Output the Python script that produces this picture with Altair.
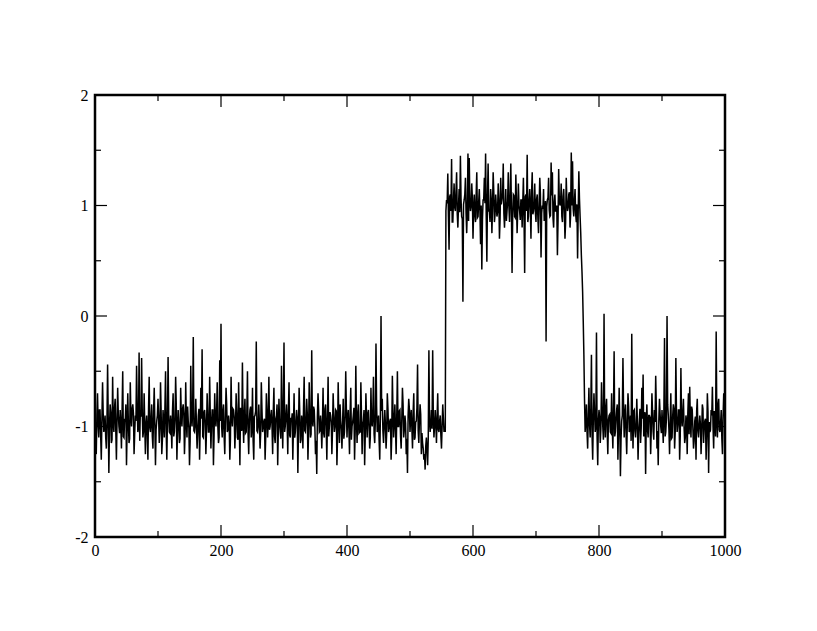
import altair as alt
import pandas as pd

# Sample grid (x every unit from 0 to 1000)
x_values = list(range(0, 1001))

# Signal, in segments
low_left = [
    -0.95, -1.05, -1.25, -0.90, -0.70, -0.98, -1.10, -0.85, -0.85, -1.08, -1.30, -0.92, -0.60, -0.88, -1.05, -1.00, -0.90, -1.10, -1.20, -0.95,
    -0.44, -0.92, -1.42, -1.02, -0.80, -0.87, -1.15, -1.12, -0.55, -0.96, -1.05, -0.83, -0.75, -1.04, -1.30, -0.94, -0.65, -0.89, -1.00, -1.06,
    -0.85, -1.00, -1.20, -0.86, -0.50, -1.09, -1.10, -0.93, -0.95, -0.80, -1.35, -1.03, -0.70, -0.97, -1.15, -1.11, -0.60, -0.90, -1.00, -0.84,
    -0.80, -0.88, -1.25, -1.07, -0.90, -0.95, -0.45, -0.82, -1.05, -1.01, -0.33, -1.13, -0.85, -0.91, -0.38, -0.86, -1.10, -1.04, -0.70, -0.99,
    -1.25, -0.98, -0.90, -1.06, -1.30, -0.84, -0.55, -1.01, -1.05, -0.93, -0.80, -1.09, -1.20, -0.87, -0.65, -0.96, -1.35, -1.03, -0.95, -0.90,
    -0.75, -0.92, -1.15, -1.02, -0.60, -0.87, -1.25, -1.12, -0.85, -0.96, -1.10, -0.83, -0.50, -1.04, -1.30, -0.94, -0.37, -0.89, -1.05, -1.06,
    -0.90, -1.00, -1.20, -0.86, -0.70, -1.09, -1.05, -0.93, -0.55, -0.80, -1.30, -1.03, -0.85, -0.97, -1.15, -1.11, -0.65, -0.90, -1.00, -0.84,
    -0.80, -0.88, -1.25, -1.07, -0.60, -0.95, -1.10, -0.82, -0.95, -1.01, -1.35, -1.13, -0.45, -0.91, -1.00, -0.86, -0.19, -1.04, -1.05, -0.99,
    -0.75, -0.98, -1.20, -1.06, -0.90, -0.84, -1.30, -1.01, -0.65, -0.93, -0.30, -1.09, -1.10, -0.87, -0.85, -0.96, -1.25, -1.03, -0.70, -0.90,
    -1.05, -1.05, -0.55, -0.90, -1.20, -0.98, -0.85, -0.85, -1.35, -1.08, -0.70, -0.92, -1.00, -0.88, -0.60, -1.00, -1.15, -1.10, -0.40, -0.95,
    -0.07, -1.00, -1.10, -0.86, -0.80, -1.09, -1.25, -0.93, -0.65, -0.80, -1.05, -1.03, -0.90, -0.97, -1.30, -1.11, -0.55, -0.90, -1.00, -0.84,
    -0.85, -0.92, -1.20, -1.02, -0.70, -0.87, -1.10, -1.12, -0.60, -0.96, -1.35, -0.83, -0.95, -1.04, -0.42, -0.94, -1.15, -0.89, -0.75, -1.06,
    -1.05, -0.88, -0.50, -1.07, -1.25, -0.95, -0.85, -0.82, -1.10, -1.01, -0.65, -1.13, -1.30, -0.91, -0.90, -0.86, -0.23, -1.04, -1.05, -0.99,
    -0.80, -0.98, -1.20, -1.06, -0.60, -0.84, -1.05, -1.01, -0.95, -0.93, -1.30, -1.09, -0.70, -0.87, -1.10, -0.96, -0.55, -1.03, -1.00, -0.90,
    -0.85, -1.00, -1.25, -0.86, -0.65, -1.09, -1.15, -0.93, -0.90, -0.80, -1.35, -1.03, -0.75, -0.97, -1.05, -1.11, -0.45, -0.90, -1.20, -0.84,
    -0.24, -1.05, -1.00, -0.90, -0.80, -0.98, -1.25, -0.85, -0.60, -1.08, -1.10, -0.92, -0.95, -0.88, -1.30, -1.00, -0.70, -1.10, -1.05, -0.95,
    -0.85, -0.92, -1.42, -1.02, -0.65, -0.87, -1.15, -1.12, -0.90, -0.96, -1.20, -0.83, -0.55, -1.04, -1.05, -0.94, -0.75, -0.89, -1.30, -1.06,
    -0.60, -0.88, -1.10, -1.07, -0.31, -0.95, -1.00, -0.82, -0.85, -1.01, -1.25, -1.13, -1.43, -0.91, -0.70, -0.86, -1.05, -1.04, -0.90, -0.99,
    -1.20, -0.98, -0.65, -1.06, -1.10, -0.84, -0.80, -1.01, -1.30, -0.93, -0.55, -1.09, -1.00, -0.87, -0.90, -0.96, -1.25, -1.03, -0.70, -0.90,
    -1.05, -1.00, -0.85, -0.86, -1.35, -1.09, -0.60, -0.93, -1.15, -0.80, -0.95, -1.03, -1.20, -0.97, -0.75, -1.11, -1.05, -0.90, -0.50, -0.84,
    -1.10, -0.92, -0.85, -1.02, -1.25, -0.87, -0.65, -1.12, -1.00, -0.96, -0.90, -0.83, -1.30, -1.04, -0.45, -0.94, -1.15, -0.89, -0.80, -1.06,
    -1.05, -1.05, -0.60, -0.90, -1.25, -0.98, -0.95, -0.85, -1.35, -1.08, -0.70, -0.92, -1.10, -0.88, -0.85, -1.00, -1.20, -1.10, -0.65, -0.95,
    -1.00, -0.88, -0.55, -1.07, -1.15, -0.95, -0.25, -0.82, -1.05, -1.01, -0.90, -1.13, -1.30, -0.91, 0.00, -0.86, -0.75, -1.04, -1.15, -0.99,
    -0.85, -0.98, -1.20, -1.06, -0.70, -0.84, -1.05, -1.01, -0.95, -0.93, -1.30, -1.09, -0.54, -0.87, -1.10, -0.96, -0.80, -1.03, -1.25, -0.90,
    -0.50, -1.00, -1.00, -0.86, -0.85, -1.09, -1.20, -0.93, -0.65, -0.80, -1.10, -1.03, -0.90, -0.97, -1.25, -1.11, -1.42, -0.90, -0.75, -0.84,
    -1.05, -0.92, -0.85, -1.02, -1.20, -0.87, -0.70, -1.12, -1.10, -0.96, -0.95, -0.83, -0.44, -1.04, -1.15, -0.94, -0.80, -0.89, -1.25, -1.06,
    -1.15, -1.20, -1.30, -1.25, -1.39, -1.18, -1.10, -1.22, -1.35, -1.10, -0.31, -0.95, -1.05, -0.98, -0.85, -1.02, -0.31, -0.90, -1.10, -1.00,
    -0.85, -0.97, -1.15, -0.92, -0.70, -1.03, -1.05, -0.95, -0.90, -1.08, -1.20, -0.99, -0.80, -0.93, -1.05,
]
rise = [-1.00, -1.05, 0.95]
high = [
    1.05, 1.02, 1.29, 0.90, 0.60, 1.08, 1.10, 0.95, 1.42, 0.85, 0.85, 1.05, 1.20, 0.98, 0.95, 1.12, 1.30, 0.92, 0.80, 1.00,
    1.15, 0.94, 1.45, 1.06, 0.90, 0.88, 0.13, 1.01, 1.05, 1.10, 1.25, 0.93, 0.75, 0.97, 1.47, 0.86, 1.43, 1.04, 0.95, 0.99,
    1.20, 1.07, 0.70, 0.96, 1.10, 0.91, 0.85, 1.09, 1.30, 0.89, 0.90, 1.03, 1.15, 0.95, 0.65, 1.00, 0.42, 0.87, 1.05, 1.05,
    1.25, 1.02, 1.47, 0.90, 0.49, 1.08, 1.38, 0.95, 0.95, 0.85, 1.15, 1.05, 0.75, 0.98, 1.30, 1.12, 0.85, 0.92, 1.10, 1.00,
    0.90, 0.94, 1.20, 1.06, 0.70, 0.88, 1.25, 1.01, 1.05, 1.10, 1.38, 0.93, 0.80, 0.97, 1.15, 0.86, 0.95, 1.04, 1.30, 0.99,
    0.85, 1.07, 1.38, 0.96, 0.39, 0.91, 1.10, 1.09, 0.90, 0.89, 1.28, 1.03, 0.75, 0.95, 1.20, 1.00, 0.95, 0.87, 1.05, 1.05,
    0.80, 1.02, 1.25, 0.90, 0.39, 1.08, 1.10, 0.95, 1.46, 0.85, 0.90, 1.05, 1.15, 0.98, 0.70, 1.12, 1.30, 0.92, 0.95, 1.00,
    1.20, 0.94, 0.85, 1.06, 1.10, 0.88, 0.75, 1.01, 1.25, 1.10, 0.53, 0.93, 1.00, 0.97, 1.15, 0.86, 0.90, 1.04, -0.23, 0.99,
    1.05, 1.07, 1.25, 0.96, 0.90, 0.91, 1.39, 1.09, 1.30, 0.89, 0.80, 1.03, 1.10, 0.95, 0.95, 1.00, 0.55, 0.87, 1.33, 1.05,
    1.00, 1.02, 1.20, 0.90, 0.85, 1.08, 1.15, 0.95, 0.70, 0.85, 1.25, 1.05, 0.95, 0.98, 1.10, 1.12, 0.80, 0.92, 1.48, 1.00,
    1.40, 0.97, 0.90, 1.04, 1.15, 0.92, 0.85, 1.01, 0.52, 0.95, 1.31, 1.06, 0.90,
]
fall = [0.75, 0.55, 0.40, 0.22, -0.05, -0.35, -0.75, -1.05, -0.95]
low_right = [
    -0.80, -1.05, -1.20, -0.90, -0.65, -0.98, -1.10, -0.85, -0.35, -1.08, -1.30, -0.92, -0.70, -0.88, -1.05, -1.00, -0.15, -1.10, -1.35, -0.95,
    -0.85, -0.92, -1.15, -1.02, -0.60, -0.87, -1.00, -1.12, 0.02, -0.96, -1.10, -0.83, -0.75, -1.04, -1.25, -0.94, -0.90, -0.89, -1.05, -1.06,
    -0.70, -1.00, -1.20, -0.86, -0.32, -1.09, -1.05, -0.93, -0.85, -0.80, -1.30, -1.03, -0.65, -0.97, -1.45, -1.11, -0.95, -0.90, -0.38, -0.84,
    -1.10, -0.88, -0.80, -1.07, -1.25, -0.95, -0.70, -0.82, -1.05, -1.01, -0.90, -1.13, -0.16, -0.91, -1.20, -0.86, -0.85, -1.04, -1.10, -0.99,
    -0.75, -0.98, -1.30, -1.06, -0.95, -0.84, -1.15, -1.01, -0.65, -0.93, -0.53, -1.09, -1.05, -0.87, -1.43, -0.96, -0.80, -1.03, -1.10, -0.90,
    -0.90, -0.92, -1.25, -1.02, -0.70, -0.87, -1.05, -1.12, -0.85, -0.96, -0.54, -0.83, -1.20, -1.04, -1.35, -0.94, -0.75, -0.89, -1.00, -1.06,
    -0.85, -1.00, -1.15, -0.86, -0.20, -1.09, -1.05, -0.93, 0.00, -0.80, -0.90, -1.03, -1.25, -0.97, -0.70, -1.11, -1.10, -0.90, -0.80, -0.84,
    -1.20, -1.05, -0.38, -0.90, -1.05, -0.98, -0.85, -0.85, -1.30, -1.08, -0.47, -0.92, -1.00, -0.88, -0.75, -1.00, -1.15, -1.10, -0.90, -0.95,
    -1.25, -0.88, -0.70, -1.07, -0.64, -0.95, -1.10, -0.82, -0.85, -1.01, -1.20, -1.13, -0.95, -0.91, -1.30, -0.86, -0.75, -1.04, -1.10, -0.99,
    -0.90, -0.98, -1.25, -1.06, -0.80, -0.84, -1.15, -1.01, -0.95, -0.93, -1.30, -1.09, -0.70, -0.87, -1.42, -0.96, -1.05, -1.03, -0.85, -0.90,
    -0.64, -1.00, -1.20, -0.86, -0.90, -1.09, -0.14, -0.93, -1.10, -0.80, -0.75, -1.03, -1.05, -0.97, -0.85, -1.11, -1.25, -0.90, -0.70, -0.84,
    -1.00,
]

signal = low_left + rise + high + fall + low_right

# Axis tick positions
x_major = [0, 200, 400, 600, 800, 1000]
x_minor = [100, 300, 500, 700, 900]
y_major = [-2, -1, 0, 1, 2]
y_minor = [-1.5, -0.5, 0.5, 1.5]

W, H = 630, 442
MAJ, MIN = 12, 6
FONT = "Liberation Serif"

df = pd.DataFrame({"x": x_values, "y": signal})

xscale = alt.Scale(domain=[0, 1000], nice=False, zero=False)
yscale = alt.Scale(domain=[-2, 2], nice=False, zero=False)

xaxis = alt.Axis(values=x_major, labelExpr="'' + datum.value", title=None)
yaxis = alt.Axis(values=y_major, labelExpr="'' + datum.value", title=None)

line = alt.Chart(df).mark_line(color="black", strokeWidth=1.5).encode(
    x=alt.X("x:Q", scale=xscale, axis=xaxis),
    y=alt.Y("y:Q", scale=yscale, axis=yaxis),
)

def xticks(vals, length):
    d = pd.DataFrame({"x": vals})
    base = alt.Chart(d).mark_rule(color="black", strokeWidth=1.2)
    top = base.encode(x=alt.X("x:Q", scale=xscale, axis=xaxis),
                      y=alt.value(0), y2=alt.value(length))
    bottom = base.encode(x=alt.X("x:Q", scale=xscale, axis=xaxis),
                         y=alt.value(H), y2=alt.value(H - length))
    return [top, bottom]

def yticks(vals, length):
    d = pd.DataFrame({"y": vals})
    base = alt.Chart(d).mark_rule(color="black", strokeWidth=1.2)
    left = base.encode(y=alt.Y("y:Q", scale=yscale, axis=yaxis),
                       x=alt.value(0), x2=alt.value(length))
    right = base.encode(y=alt.Y("y:Q", scale=yscale, axis=yaxis),
                        x=alt.value(W), x2=alt.value(W - length))
    return [left, right]

layers = [line] + xticks(x_major, MAJ) + xticks(x_minor, MIN) + yticks(y_major, MAJ) + yticks(y_minor, MIN)

chart = alt.layer(*layers).properties(
    width=W, height=H,
    background="white",
    autosize=alt.AutoSizeParams(type="none"),
    padding={"left": 87, "top": 87, "right": 84, "bottom": 86},
).configure_view(
    stroke="black", strokeWidth=2.5
).configure_axis(
    labelFont=FONT, labelFontSize=16, labelColor="black", ticks=False, domain=False,
    grid=False, labelFlush=False, labelOverlap=False,
).configure_axisX(labelPadding=5).configure_axisY(labelPadding=7)

chart.save("out.html", embed_options={"renderer": "svg", "actions": False})
